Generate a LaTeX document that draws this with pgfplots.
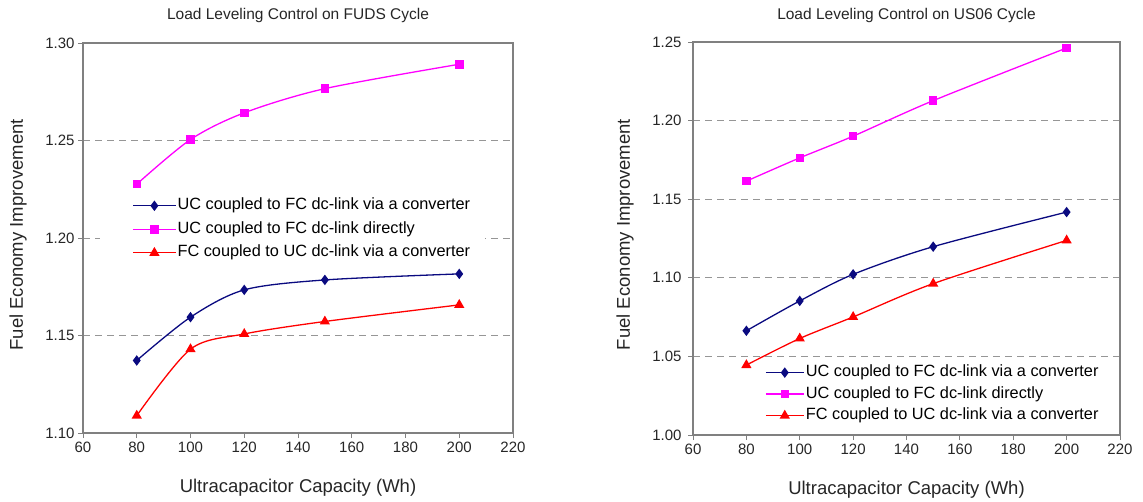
\documentclass[border=0pt]{standalone}
\usepackage{fontspec}
\setmainfont{Liberation Sans}
\usepackage{pgfplots}
\pgfplotsset{compat=1.18}
\definecolor{ucblue}{RGB}{10,10,128}
\definecolor{ucmag}{RGB}{255,0,255}
\definecolor{fcred}{RGB}{255,0,0}
\definecolor{axgray}{RGB}{128,128,128}
\definecolor{gridgray}{RGB}{150,150,150}
\pgfplotsset{
  myaxis/.style={
    scale only axis,
    xmin=60, xmax=220, xtick={60,80,...,220},
    axis line style={axgray, line width=1.6pt},
    tick style={axgray, line width=1pt},
    tick align=outside, major tick length=5pt,
    xtick pos=bottom, ytick pos=left,
    ymajorgrids,
    grid style={gridgray, line width=0.9pt, dash pattern=on 7pt off 5pt},
    /pgf/number format/assume math mode=true,
    y tick label style={/pgf/number format/.cd, fixed, fixed zerofill, precision=2, /tikz/.cd},
    tick label style={font=\fontsize{15}{18}\selectfont, text=black!85},
    title style={font=\fontsize{15.5}{18}\selectfont, text=black!85, at={(axis description cs:0.5,1)}, anchor=center},
    label style={font=\fontsize{18.5}{22}\selectfont, text=black!85},
    xlabel style={at={(axis description cs:0.5,0)}, anchor=center, yshift=-55pt},
    legend cell align=left,
    legend style={draw=none, fill=white, font=\fontsize{16.3}{19}\selectfont,
      nodes={inner ysep=0pt, inner xsep=1.5pt, text height=11.5pt, text depth=3.5pt}},
  },
  bl/.style={ucblue, line width=1.3pt, smooth, tension=0.5, mark=diamond*, mark size=4.2pt, mark options={solid}},
  mg/.style={ucmag, line width=1.3pt, smooth, tension=0.5, mark=square*, mark size=3.6pt, mark options={solid}},
  rd/.style={fcred, line width=1.3pt, smooth, tension=0.5, mark=triangle*, mark size=4.6pt, mark options={solid}},
}
\begin{document}
\begin{tikzpicture}
\path[use as bounding box] (0pt,-501pt) rectangle (1143pt,0pt);
\begin{axis}[myaxis,
  at={(83pt,-433pt)}, anchor=south west,
  width=430pt, height=390pt,
  ymin=1.10, ymax=1.30, ytick={1.10,1.15,...,1.31},
  title={Load Leveling Control on FUDS Cycle},
  title style={yshift=22pt},
  xlabel={Ultracapacitor Capacity (Wh)},
  ylabel={Fuel Economy Improvement},
  ylabel style={at={(axis description cs:-0.151,0.508)}, anchor=center},
  legend image code/.code={\path[draw=none,fill=none] (-20pt,0pt) -- (0pt,0pt);
    \draw[mark repeat=2,mark phase=2,#1] plot coordinates {(0pt,0pt) (21pt,0pt) (42pt,0pt)};},
  legend style={at={(axis description cs:0.04,0.61)}, anchor=north west, inner xsep=13pt, inner ysep=3pt,
    row sep=8.5pt},
]
\addplot[bl] coordinates {(80,1.1372) (100,1.1594) (120,1.1734) (150,1.1785) (200,1.1816)};
\addlegendentry{UC coupled to FC dc-link via a converter}
\addplot[mg] coordinates {(80,1.2276) (100,1.2505) (120,1.2642) (150,1.2766) (200,1.2891)};
\addlegendentry{UC coupled to FC dc-link directly}
\addplot[rd] coordinates {(80,1.1089) (100,1.1430) (120,1.1508) (150,1.1572) (200,1.1657)};
\addlegendentry{FC coupled to UC dc-link via a converter}
\end{axis}
\begin{axis}[myaxis,
  at={(693pt,-435pt)}, anchor=south west,
  width=427pt, height=393pt,
  ymin=1.00, ymax=1.25, ytick={1.00,1.05,...,1.26},
  y tick label style={xshift=-3pt},
  title={Load Leveling Control on US06 Cycle},
  title style={yshift=21pt},
  xlabel={Ultracapacitor Capacity (Wh)},
  ylabel={Fuel Economy Improvement},
  ylabel style={at={(axis description cs:-0.159,0.51)}, anchor=center},
  legend image code/.code={\draw[mark repeat=2,mark phase=2,#1] plot coordinates {(0pt,0pt) (19pt,0pt) (38pt,0pt)};},
  legend style={at={(axis description cs:0.145,0.186)}, anchor=north west, inner xsep=10pt, inner ysep=3pt,
    row sep=6.5pt},
]
\addplot[bl] coordinates {(80,1.0663) (100,1.0853) (120,1.1022) (150,1.1198) (200,1.1418)};
\addlegendentry{UC coupled to FC dc-link via a converter}
\addplot[mg] coordinates {(80,1.1615) (100,1.1763) (120,1.1901) (150,1.2127) (200,1.2462)};
\addlegendentry{UC coupled to FC dc-link directly}
\addplot[rd] coordinates {(80,1.0445) (100,1.0614) (120,1.0751) (150,1.0963) (200,1.1238)};
\addlegendentry{FC coupled to UC dc-link via a converter}
\end{axis}
\end{tikzpicture}
\end{document}
